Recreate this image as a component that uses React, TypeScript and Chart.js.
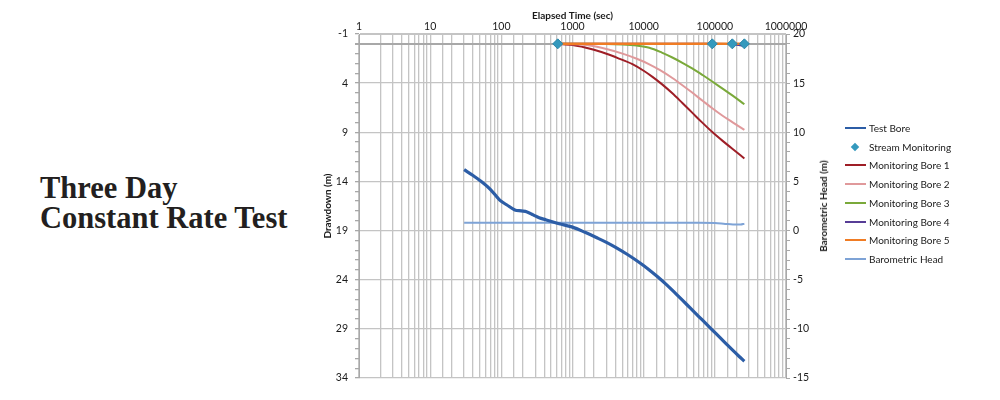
import React, { useEffect, useRef } from 'react';
import { Chart, registerables } from 'chart.js';

Chart.register(...registerables);

// Elapsed time (sec) and drawdown (m) for the test bore
const testBoreTime = [30, 40, 50, 70, 95, 120, 155, 190, 230, 280, 340, 420, 520, 650, 830, 1000, 1500, 2200, 3000, 4150, 6000, 8500, 12000, 16000, 20900, 28000, 35000, 45000, 60000, 80000, 105000, 140000, 178000, 220000, 260000];
const testBoreDrawdown = [12.8, 13.4, 13.9, 14.8, 15.9, 16.4, 16.9, 17.0, 17.1, 17.4, 17.7, 17.9, 18.1, 18.3, 18.5, 18.65, 19.18, 19.73, 20.2, 20.76, 21.46, 22.2, 23.0, 23.75, 24.5, 25.39, 26.08, 26.87, 27.77, 28.67, 29.52, 30.42, 31.17, 31.81, 32.3];

const streamTime = [620, 92000, 176000, 260000];
const streamDrawdown = [0, 0, 0, 0];

const mb1Time = [620, 1000, 1500, 2000, 3000, 4500, 6950, 10000, 13300, 18000, 25300, 35000, 48000, 65000, 93000, 130000, 178000, 260000];
const mb1Drawdown = [0, 0.12, 0.37, 0.61, 1.01, 1.5, 2.07, 2.74, 3.36, 4.1, 5.03, 6.02, 7.0, 7.94, 9.0, 9.9, 10.7, 11.66];

const mb2Time = [620, 1000, 1740, 3000, 5050, 8000, 12000, 17000, 25300, 35000, 48000, 68000, 93000, 130000, 178000, 260000];
const mb2Drawdown = [0, 0.04, 0.17, 0.53, 1.0, 1.52, 2.08, 2.68, 3.48, 4.21, 4.96, 5.82, 6.58, 7.34, 7.99, 8.75];

const mb3Time = [620, 3000, 5000, 8000, 12000, 18000, 25300, 35000, 48000, 68000, 93000, 130000, 178000, 260000];
const mb3Drawdown = [0, 0.01, 0.06, 0.18, 0.4, 0.89, 1.39, 1.93, 2.5, 3.2, 3.86, 4.59, 5.27, 6.15];

const mb4Time = [620, 100000, 150000, 200000, 260000];
const mb4Drawdown = [0, 0, 0.02, 0.1, 0.2];

const mb5Time = [620, 260000];
const mb5Drawdown = [0, 0];

const baroTime = [30, 1000, 10000, 60000, 100000, 140000, 180000, 230000, 260000];
const baroHead = [0.8, 0.8, 0.8, 0.8, 0.78, 0.68, 0.62, 0.62, 0.7];

const legendLabels = ['Test Bore', 'Stream Monitoring', 'Monitoring Bore 1', 'Monitoring Bore 2', 'Monitoring Bore 3', 'Monitoring Bore 4', 'Monitoring Bore 5', 'Barometric Head'];

const COLORS = {
  test: '#2c5da6',
  stream: '#3499bd',
  mb1: '#9e1e26',
  mb2: '#e0999b',
  mb3: '#7aa93a',
  mb4: '#573d96',
  mb5: '#f07c24',
  baro: '#7ea3d6',
};
const legendColors = [COLORS.test, COLORS.stream, COLORS.mb1, COLORS.mb2, COLORS.mb3, COLORS.mb4, COLORS.mb5, COLORS.baro];

const pts = (xs: number[], ys: number[]) => xs.map((x, i) => ({ x, y: ys[i] }));

const FONT = 'Lato, "Liberation Sans", sans-serif';

export default function App() {
  const ref = useRef<HTMLCanvasElement>(null);

  useEffect(() => {
    const lineDs = (label: string, xs: number[], ys: number[], color: string, width: number, order: number, axis = 'y') => ({
      label,
      data: pts(xs, ys),
      borderColor: color,
      backgroundColor: color,
      borderWidth: width,
      pointRadius: 0,
      cubicInterpolationMode: 'monotone',
      order,
      yAxisID: axis,
    });
    const chart = new Chart(ref.current!, {
      type: 'line',
      data: {
        datasets: [
          lineDs(legendLabels[0], testBoreTime, testBoreDrawdown, COLORS.test, 3.2, 6),
          {
            label: legendLabels[1],
            data: pts(streamTime, streamDrawdown),
            showLine: false,
            pointStyle: 'rectRot',
            pointRadius: 5,
            pointBackgroundColor: COLORS.stream,
            pointBorderColor: '#2a86a8',
            pointBorderWidth: 1,
            borderColor: COLORS.stream,
            backgroundColor: COLORS.stream,
            order: 0,
            yAxisID: 'y',
          },
          lineDs(legendLabels[2], mb1Time, mb1Drawdown, COLORS.mb1, 2, 5),
          lineDs(legendLabels[3], mb2Time, mb2Drawdown, COLORS.mb2, 2, 4),
          lineDs(legendLabels[4], mb3Time, mb3Drawdown, COLORS.mb3, 2, 3),
          lineDs(legendLabels[5], mb4Time, mb4Drawdown, COLORS.mb4, 2, 2),
          lineDs(legendLabels[6], mb5Time, mb5Drawdown, COLORS.mb5, 2.5, 1),
          lineDs(legendLabels[7], baroTime, baroHead, COLORS.baro, 2, 7, 'y1'),
        ] as any,
      },
      options: {
        responsive: false,
        animation: false,
        devicePixelRatio: 1,
        layout: { padding: { left: 0, right: 164, top: 0, bottom: 22 } },
        plugins: { legend: { display: false }, tooltip: { enabled: false } },
        scales: {
          x: {
            type: 'logarithmic',
            position: 'top',
            min: 1,
            max: 1000000,
            afterFit: (s: any) => { s.height = 34; },
            title: {
              display: true,
              text: 'Elapsed Time (sec)',
              font: { family: FONT, size: 10, weight: 'bold' },
              color: '#1a1a1a',
              padding: { top: 10, bottom: 0 },
            },
            ticks: {
              autoSkip: false,
              maxRotation: 0,
              padding: 1,
              font: { family: FONT, size: 10.5 },
              color: '#1a1a1a',
              callback: (v: any) => {
                const l = Math.log10(Number(v));
                return Math.abs(l - Math.round(l)) < 1e-9 ? String(Math.round(Number(v))) : '';
              },
            },
            grid: { color: '#c4c4c4', lineWidth: 1.3, drawTicks: false },
            border: { color: '#c4c4c4' },
          },
          y: {
            type: 'linear',
            position: 'left',
            reverse: true,
            min: -1,
            max: 34,
            afterFit: (s: any) => { s.width = 59; },
            title: {
              display: true,
              text: 'Drawdown (m)',
              font: { family: FONT, size: 10, weight: 'bold' },
              color: '#1a1a1a',
              padding: { top: 22, bottom: 0 },
            },
            ticks: {
              stepSize: 1,
              autoSkip: false,
              padding: 7,
              font: { family: FONT, size: 10.5 },
              color: '#1a1a1a',
              callback: (v: any) => ((Number(v) + 1) % 5 === 0 ? String(v) : ''),
            },
            grid: {
              color: (c: any) => (c.tick.value === 0 ? '#a8a8a8' : (c.tick.value + 1) % 5 === 0 ? '#c4c4c4' : 'rgba(0,0,0,0)'),
              lineWidth: (c: any) => (c.tick.value === 0 ? 2 : 1.3),
              tickColor: '#a8a8a8',
              tickLength: 4,
            },
            border: { color: '#a8a8a8' },
          },
          y1: {
            type: 'linear',
            position: 'right',
            min: -15,
            max: 20,
            afterFit: (s: any) => { s.width = 50; },
            ticks: {
              stepSize: 1,
              autoSkip: false,
              padding: 3,
              font: { family: FONT, size: 10.5 },
              color: '#1a1a1a',
              callback: (v: any) => (Number(v) % 5 === 0 ? String(v) : ''),
            },
            grid: { drawOnChartArea: false, tickColor: '#a8a8a8', tickLength: 4 },
            border: { color: '#a8a8a8' },
          },
        },
      } as any,
    });
    return () => chart.destroy();
  }, []);

  const legendTop = 128;
  const legendStep = 18.7;

  return (
    <div style={{ position: 'absolute', left: 0, top: 0, width: 1000, height: 400, background: '#fff', overflow: 'hidden' }}>
      <div
        style={{
          position: 'absolute',
          left: 40,
          top: 173,
          fontFamily: '"Liberation Serif", serif',
          fontWeight: 'bold',
          fontSize: 30.5,
          lineHeight: '30px',
          color: '#231f20',
          whiteSpace: 'nowrap',
        }}
      >
        Three Day
        <br />
        Constant Rate Test
      </div>
      <canvas ref={ref} width={700} height={400} style={{ position: 'absolute', left: 300, top: 0, width: 700, height: 400 }} />
      <div
        style={{
          position: 'absolute',
          left: 823,
          top: 206,
          transform: 'translate(-50%, -50%) rotate(-90deg)',
          fontFamily: FONT,
          fontWeight: 'bold',
          fontSize: 10,
          color: '#1a1a1a',
          whiteSpace: 'nowrap',
        }}
      >
        Barometric Head (m)
      </div>
      {legendLabels.map((label, i) => (
        <div
          key={label}
          style={{ position: 'absolute', left: 845, top: legendTop + i * legendStep - 8, height: 16, display: 'flex', alignItems: 'center', fontFamily: FONT, fontSize: 10, color: '#1a1a1a', whiteSpace: 'nowrap' }}
        >
          <div style={{ width: 21, height: 16, position: 'relative', marginRight: 3 }}>
            {i === 1 ? (
              <div style={{ position: 'absolute', left: 7, top: 5, width: 6, height: 6, background: legendColors[i], transform: 'rotate(45deg)' }} />
            ) : (
              <div style={{ position: 'absolute', left: 0, top: 7, width: 21, height: 2, background: legendColors[i] }} />
            )}
          </div>
          {label}
        </div>
      ))}
    </div>
  );
}
